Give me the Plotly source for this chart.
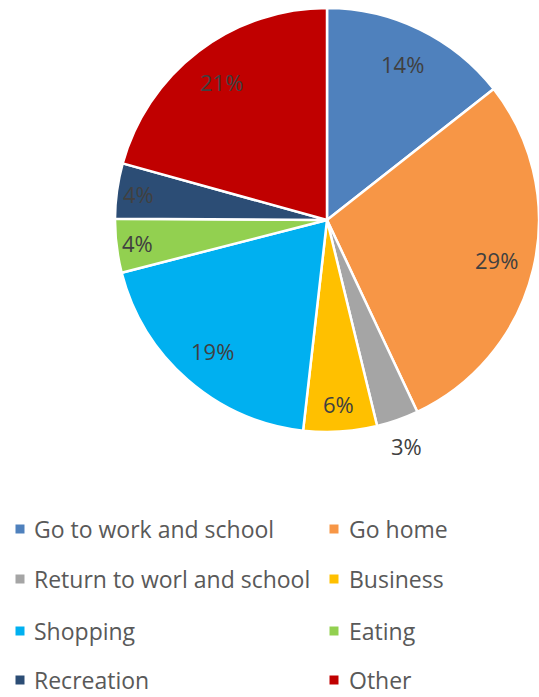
import math
import plotly.graph_objects as go

categories = ["Go to work and school", "Go home", "Return to worl and school", "Business",
              "Shopping", "Eating", "Recreation", "Other"]
values = [14.4, 28.6, 3.2, 5.6, 19.2, 4.1, 4.2, 20.7]
colors = ["#4F81BD", "#F79646", "#A5A5A5", "#FFC000", "#00B0F0", "#92D050", "#2C4D75", "#C00000"]

W, H = 539, 697
# pie geometry (pixels)
CX, CY, R = 327, 220, 212

fig = go.Figure()
fig.add_trace(go.Pie(
    labels=categories, values=values, sort=False, direction="clockwise", rotation=0,
    marker=dict(colors=colors, line=dict(color="white", width=2.5)),
    textinfo="none",
    domain=dict(x=[(CX - R) / W, (CX + R) / W], y=[1 - (CY + R) / H, 1 - (CY - R) / H]),
    showlegend=False, hoverinfo="label+percent",
))

# percentage labels placed Excel-style (radial position by slice size)
total = sum(values)
annotations = []
cum = 0.0
for v in values:
    share = v / total
    mid = (cum + share / 2) * 2 * math.pi
    cum += share
    if share < 0.035:
        frac = 1.13
    elif share < 0.05:
        frac = 0.9
    elif share < 0.10:
        frac = 0.87
    else:
        frac = 0.82
    px = CX + frac * R * math.sin(mid)
    py = CY - frac * R * math.cos(mid)
    annotations.append(dict(text=f"{round(share * 100):.0f}%", xref="paper", yref="paper",
                            x=px / W, y=1 - py / H, xanchor="center", yanchor="middle",
                            showarrow=False,
                            font=dict(family="Open Sans", size=22, color="#404040")))

# manual two-column legend
row_y = [529, 579, 631, 680]
col_marker_x = [20, 334]
col_text_x = [33, 348]
shapes = []
for i, (cat, col) in enumerate(zip(categories, colors)):
    r, c = divmod(i, 2)
    yp = 1 - row_y[r] / H
    xm = col_marker_x[c] / W
    shapes.append(dict(type="rect", xref="paper", yref="paper", xsizemode="pixel", ysizemode="pixel",
                       xanchor=xm, yanchor=yp, x0=-4.5, x1=4.5, y0=-4.5, y1=4.5,
                       fillcolor=col, line=dict(width=0)))
    annotations.append(dict(text=cat, xref="paper", yref="paper", x=col_text_x[c] / W, y=yp,
                            xanchor="left", yanchor="middle", showarrow=False, borderpad=0,
                            font=dict(family="Open Sans", size=23, color="#595959")))

fig.update_layout(width=W, height=H, margin=dict(l=0, r=0, t=0, b=0),
                  paper_bgcolor="white", plot_bgcolor="white",
                  shapes=shapes, annotations=annotations)
fig.write_html("out.html")
